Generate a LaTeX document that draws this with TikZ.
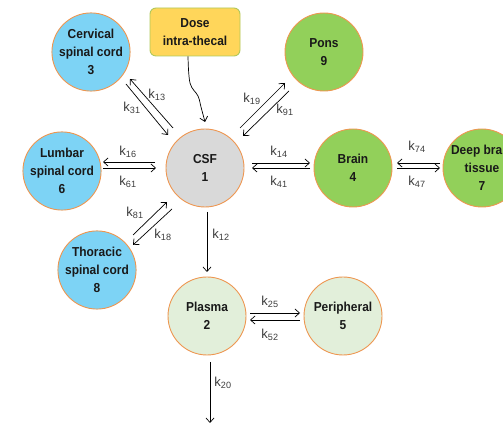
\documentclass[tikz,border=0pt]{standalone}
\usepackage{fontspec}
\setmainfont{Liberation Sans}
\newfontfamily\nodefont{Liberation Sans}[FakeStretch=0.92]
\usetikzlibrary{arrows.meta}
\definecolor{cblue}{RGB}{125,211,245}
\definecolor{cgreen}{RGB}{146,208,90}
\definecolor{cgrey}{RGB}{217,217,217}
\definecolor{clight}{RGB}{226,239,218}
\definecolor{outl}{RGB}{238,150,80}
\definecolor{dosefill}{RGB}{255,214,90}
\definecolor{dosedraw}{RGB}{175,200,90}
\definecolor{labgray}{RGB}{60,60,60}
\newcommand{\kk}[1]{k\textsubscript{#1}}
\begin{document}
\begin{tikzpicture}[x=1pt,y=1pt,
  comp/.style={circle, draw=outl, line width=0.9pt, minimum size=78pt, inner sep=0pt,
    align=center, text=black!90, font=\nodefont\bfseries\fontsize{13}{18}\selectfont},
  dosebox/.style={rectangle, rounded corners=6pt, draw=dosedraw, line width=0.9pt, fill=dosefill,
    minimum width=90pt, minimum height=48pt, align=center, text=black!90,
    font=\nodefont\bfseries\fontsize{13}{18}\selectfont},
  arr/.style={-{Straight Barb[length=4.5pt,width=8pt]}, line width=0.7pt},
  klab/.style={font=\fontsize{13}{15}\selectfont, text=labgray, inner sep=0pt}]
\useasboundingbox (0,0) rectangle (503,425);
\clip (0,0) rectangle (503,425);

% compartments
\node[comp, fill=cblue]  (c3) at (91,373)  {Cervical\\spinal cord\\3};
\node[comp, fill=cgrey]  (c1) at (205,257) {CSF\\1};
\node[comp, fill=cblue]  (c6) at (62,254)  {Lumbar\\spinal cord\\6};
\node[comp, fill=cgreen] (c9) at (324,373) {Pons\\9};
\node[comp, fill=cgreen] (c4) at (353,257) {Brain\\4};
\node[comp, fill=cgreen] (c7) at (482,257) {Deep brain\\tissue\\7};
\node[comp, fill=cblue]  (c8) at (97,155)  {Thoracic\\spinal cord\\8};
\node[comp, fill=clight] (c2) at (207,109) {Plasma\\2};
\node[comp, fill=clight] (c5) at (343,109) {Peripheral\\5};
\node[dosebox] (dose) at (195,393) {Dose\\intra-thecal};
\coordinate (out) at (210,2);

% dose input
\draw[arr] plot[smooth, tension=0.6] coordinates {([xshift=-7pt]dose.south) (190,342) (198,329) (201,318) (205,303)};

% CSF <-> cervical
\draw[arr] ([shift={(-32,40)}]c1.center) -- ([shift={(39,-27)}]c3.center);
\draw[arr] ([shift={(35,-32)}]c3.center) -- ([shift={(-37,33)}]c1.center);
% CSF <-> lumbar
\draw[arr] ([shift={(-50,6)}]c1.center) -- ([shift={(41,9)}]c6.center);
\draw[arr] ([shift={(41,3)}]c6.center) -- ([shift={(-49,0)}]c1.center);
% CSF <-> pons
\draw[arr] ([shift={(35,40)}]c1.center) -- ([shift={(-39,-31)}]c9.center);
\draw[arr] ([shift={(-35,-39)}]c9.center) -- ([shift={(38,32)}]c1.center);
% CSF <-> brain
\draw[arr] ([shift={(47,5)}]c1.center) -- ([shift={(-43,5)}]c4.center);
\draw[arr] ([shift={(-43,0)}]c4.center) -- ([shift={(47,0)}]c1.center);
% brain <-> deep brain
\draw[arr] ([shift={(-42,5)}]c7.center) -- ([shift={(44,5)}]c4.center);
\draw[arr] ([shift={(44,0)}]c4.center) -- ([shift={(-42,0)}]c7.center);
% CSF <-> thoracic
\draw[arr] ([shift={(36,35)}]c8.center) -- ([shift={(-38,-34)}]c1.center);
\draw[arr] ([shift={(-33,-41)}]c1.center) -- ([shift={(36,25)}]c8.center);
% CSF -> plasma
\draw[arr] ([shift={(2,-44)}]c1.center) -- ([shift={(0,44)}]c2.center);
% plasma <-> peripheral
\draw[arr] ([shift={(43,3)}]c2.center) -- ([shift={(-43,3)}]c5.center);
\draw[arr] ([shift={(-43,-4)}]c5.center) -- ([shift={(43,-4)}]c2.center);
% elimination
\draw[arr] ([shift={(3,-46)}]c2.center) -- (out);

% rate constants
\node[klab] (l13) at (157,330) {\kk{13}};
\node[klab] (l31) at (132,317) {\kk{31}};
\node[klab] (l16) at (128,273) {\kk{16}};
\node[klab] (l61) at (128,243) {\kk{61}};
\node[klab] (l19) at (252,326) {\kk{19}};
\node[klab] (l91) at (285,315) {\kk{91}};
\node[klab] (l14) at (279,273) {\kk{14}};
\node[klab] (l41) at (279,243) {\kk{41}};
\node[klab] (l74) at (417,278) {\kk{74}};
\node[klab] (l47) at (417,243) {\kk{47}};
\node[klab] (l81) at (135,212) {\kk{81}};
\node[klab] (l18) at (163,190) {\kk{18}};
\node[klab] (l12) at (221,190) {\kk{12}};
\node[klab] (l25) at (270,123) {\kk{25}};
\node[klab] (l52) at (270,90)  {\kk{52}};
\node[klab] (l20) at (223,42)  {\kk{20}};
\end{tikzpicture}
\end{document}
